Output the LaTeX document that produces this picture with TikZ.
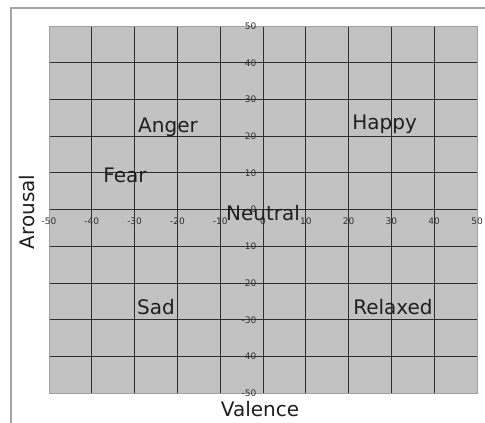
\documentclass[tikz,border=0pt]{standalone}
\usepackage{fontspec}
\setmainfont{DejaVu Sans}
\definecolor{gridfill}{HTML}{C2C2C2}
\definecolor{gridline}{HTML}{2E2E2E}
\definecolor{framegray}{HTML}{A6A6A6}
\definecolor{ticktext}{HTML}{303030}
\begin{document}
\begin{tikzpicture}[x=1pt,y=1pt,
  emo/.style={font=\fontsize{20}{22}\selectfont, text=black!88, inner sep=0pt, anchor=base},
  tickx/.style={font=\fontsize{9}{10}\selectfont, text=ticktext, inner sep=0pt, anchor=center},
  ticky/.style={font=\fontsize{9}{10}\selectfont, text=ticktext, inner sep=0pt, anchor=east},
  gl/.style={draw=gridline, line width=0.9pt}]
\useasboundingbox (0,0) rectangle (485,423);
% frame
\draw[framegray, line width=1.5pt] (11,-2) -- (11,415) -- (487,415);
% grid
\fill[gridfill] (49,29.7) rectangle (477,397);
\foreach \k in {1,...,9} {
  \draw[gl] ({49+42.8*\k},29.7) -- ({49+42.8*\k},397);
  \draw[gl] (49,{29.7+36.73*\k}) -- (477,{29.7+36.73*\k});
}
\draw[draw=gray!75, line width=0.6pt] (49,29.7) rectangle (477,397);
% tick labels
\foreach \v [count=\i from 0] in {-50,-40,-30,-20,-10,0,10,20,30,40,50} {
  \node[tickx] (tx\i) at ({49+42.8*\i},201.5) {\v};
}
\foreach \v [count=\i from 0] in {-50,-40,-30,-20,-10,0,10,20,30,40,50} {
  \node[ticky] (ty\i) at (256.5,{29.7+36.73*\i}) {\v};
}
% emotion labels
\node[emo] (anger) at (168,290) {Anger};
\node[emo] (happy) at (384.7,293) {Happy};
\node[emo] (fear) at (125,240.3) {Fear};
\node[emo] (neutral) at (263,202) {Neutral};
\node[emo] (sad) at (156,108) {Sad};
\node[emo] (relaxed) at (393,108) {Relaxed};
% axis titles
\node[emo] (valence) at (260,6.3) {Valence};
\node[emo, rotate=90] (arousal) at (34,211) {Arousal};
\end{tikzpicture}
\end{document}
